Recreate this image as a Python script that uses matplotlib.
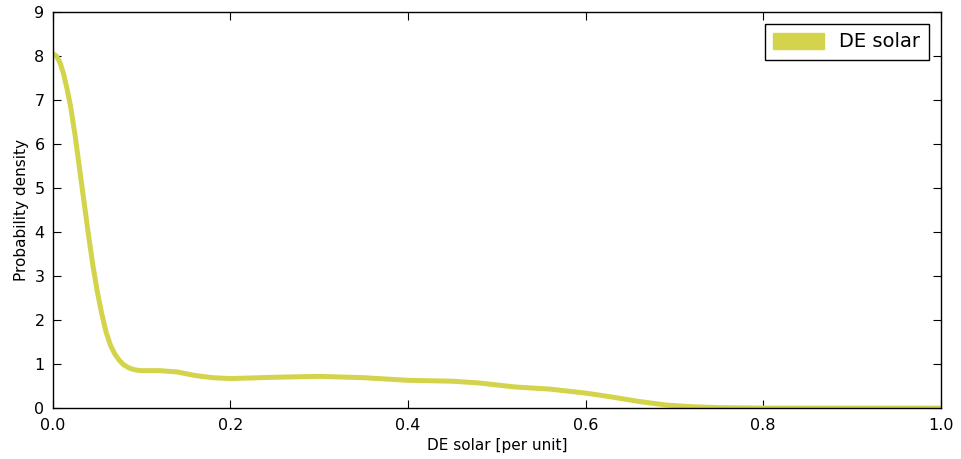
import matplotlib
matplotlib.use("Agg")
import matplotlib.pyplot as plt
import matplotlib.patches as mpatches

# values
de_solar = [0.0, 0.004, 0.008, 0.012, 0.016, 0.02, 0.025, 0.03, 0.035, 0.04,
            0.045, 0.05, 0.055, 0.06, 0.065, 0.07, 0.075, 0.08, 0.085, 0.09,
            0.095, 0.10, 0.12, 0.14, 0.16, 0.18, 0.20, 0.25, 0.30, 0.35,
            0.40, 0.45, 0.48, 0.52, 0.56, 0.60, 0.63, 0.66, 0.69, 0.72,
            0.75, 0.80, 0.90, 1.0]
density = [8.05, 8.00, 7.85, 7.60, 7.25, 6.85, 6.20, 5.45, 4.70, 3.95,
           3.25, 2.65, 2.15, 1.72, 1.42, 1.22, 1.08, 0.98, 0.92, 0.88,
           0.86, 0.85, 0.85, 0.82, 0.74, 0.69, 0.67, 0.70, 0.72, 0.69,
           0.63, 0.61, 0.57, 0.48, 0.43, 0.34, 0.25, 0.15, 0.07, 0.03,
           0.01, 0.0, 0.0, 0.0]

x_ticks = [0.0, 0.2, 0.4, 0.6, 0.8, 1.0]
y_ticks = list(range(0, 10))

LINE_COLOR = '#d4d44c'

fig = plt.figure(figsize=(9.61, 4.59), dpi=100)
ax = fig.add_axes([0.055, 0.111, 0.924, 0.863])

ax.plot(de_solar, density, color=LINE_COLOR, linewidth=3.6,
        solid_joinstyle='round', solid_capstyle='round')

ax.set_xlim(0, 1)
ax.set_ylim(0, 9)
ax.set_xticks(x_ticks)
ax.set_xticklabels([f"{t:.1f}" for t in x_ticks])
ax.set_yticks(y_ticks)
ax.tick_params(direction='in', top=True, right=True, length=6, labelsize=11.5)
ax.tick_params(axis='x', pad=7)
ax.tick_params(axis='y', pad=6)
for s in ax.spines.values():
    s.set_linewidth(1.0)

ax.set_xlabel('DE solar [per unit]', fontsize=11)
ax.set_ylabel('Probability density', fontsize=11)

handle = mpatches.Patch(color=LINE_COLOR, label='DE solar')
leg = ax.legend(handles=[handle], loc='upper right', fontsize=14,
                fancybox=False, framealpha=1, edgecolor='black',
                handlelength=2.6, handleheight=0.9, borderpad=0.45,
                borderaxespad=0.6)
leg.get_frame().set_linewidth(1.0)

fig.savefig('out.png', dpi=100)
